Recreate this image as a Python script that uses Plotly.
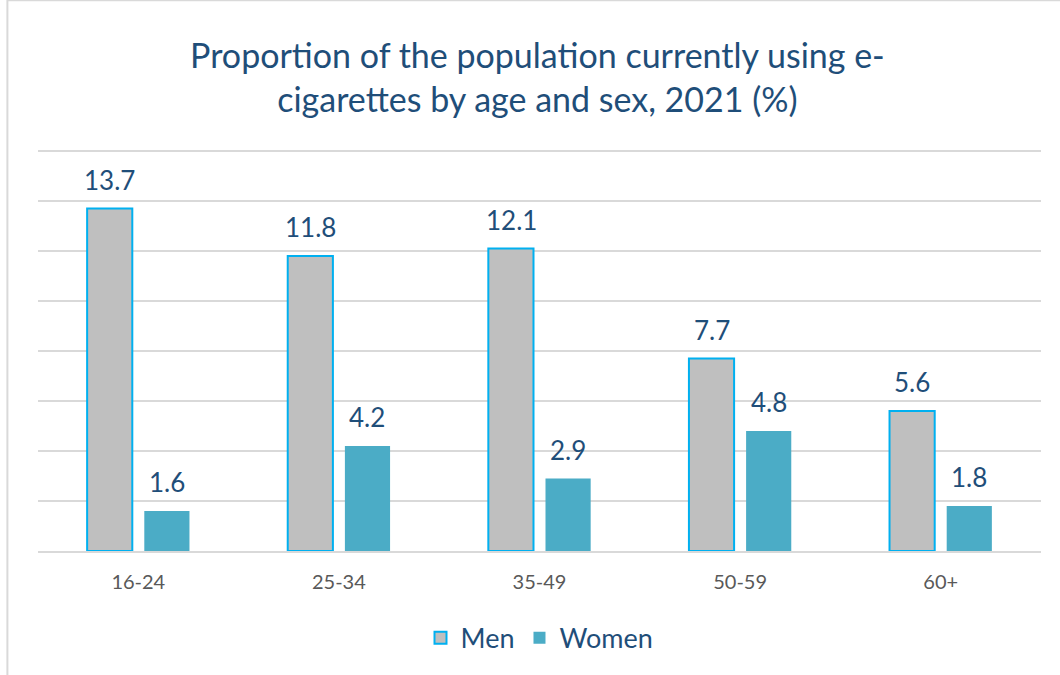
import plotly.graph_objects as go

categories = ["16-24", "25-34", "35-49", "50-59", "60+"]
men = [13.7, 11.8, 12.1, 7.7, 5.6]
women = [1.6, 4.2, 2.9, 4.8, 1.8]

FONT = "Lato"
LABEL_COLOR = "#1F4E79"

fig = go.Figure()
fig.add_trace(go.Bar(
    name="Men", x=categories, y=men,
    marker=dict(color="#BFBFBF", line=dict(color="#00B0F0", width=2)),
))
fig.add_trace(go.Bar(
    name="Women", x=categories, y=women,
    marker=dict(color="#4BACC6", line=dict(width=0)),
))

for i, c in enumerate(categories):
    for val, xs in ((men[i], -28.5), (women[i], 28.5)):
        fig.add_annotation(
            x=c, y=val, xref="x", yref="y", text=f"{val:.1f}",
            showarrow=False, yanchor="bottom", xshift=xs, yshift=11,
            font=dict(family=FONT, size=26, color=LABEL_COLOR),
        )

fig.add_shape(type="rect", xref="paper", yref="paper",
              x0=-0.0305, x1=1.1, y0=-0.5, y1=1.36,
              line=dict(color="#D9D9D9", width=2), fillcolor="rgba(0,0,0,0)",
              layer="below")

fig.update_layout(
    width=1060, height=675,
    margin=dict(l=38, r=19, t=146, b=124),
    paper_bgcolor="white", plot_bgcolor="white",
    barmode="group", bargap=0.43, bargroupgap=0.21,
    title=dict(
        text="Proportion of the population currently using e-<br>cigarettes by age and sex, 2021 (%)",
        x=0.507, xanchor="center", y=0.9, yanchor="middle",
        font=dict(family=FONT, size=34, color=LABEL_COLOR),
    ),
    xaxis=dict(
        showgrid=False, showline=True, linecolor="#D9D9D9", linewidth=2,
        ticks="", ticklabelstandoff=12,
        tickfont=dict(family=FONT, size=20, color="#595959"),
    ),
    yaxis=dict(
        range=[0, 16.2], tickvals=[0, 2, 4, 6, 8, 10, 12, 14, 16],
        showticklabels=False, showgrid=True,
        gridcolor="#D9D9D9", gridwidth=1.5, zeroline=False,
    ),
    legend=dict(
        orientation="h", x=0.5, xanchor="center", y=-0.215, yanchor="middle",
        font=dict(family=FONT, size=27, color=LABEL_COLOR),
        itemsizing="constant",
    ),
    showlegend=True,
)

fig.write_html("out.html")
